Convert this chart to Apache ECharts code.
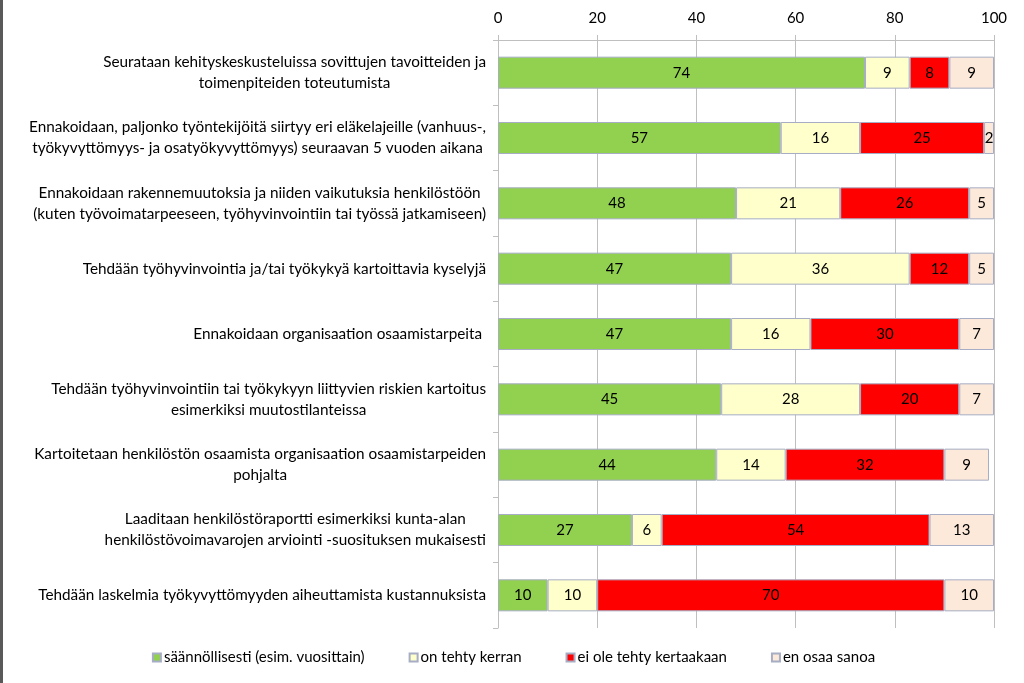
<!DOCTYPE html>
<html><head><meta charset="utf-8">
<script src="https://cdn.jsdelivr.net/npm/echarts@6/dist/echarts.min.js"></script>
<style>html,body{margin:0;padding:0;background:#fff}#c{width:1024px;height:683px;box-sizing:border-box;border-left:3px solid #595959}</style>
</head><body><div id="c"></div>
<script>
const categories = [
 "Seurataan kehityskeskusteluissa sovittujen tavoitteiden ja\ntoimenpiteiden toteutumista",
 "Ennakoidaan, paljonko työntekijöitä siirtyy eri eläkelajeille (vanhuus-,\ntyökyvyttömyys- ja osatyökyvyttömyys) seuraavan 5 vuoden aikana",
 "Ennakoidaan rakennemuutoksia ja niiden vaikutuksia henkilöstöön\n(kuten työvoimatarpeeseen, työhyvinvointiin tai työssä jatkamiseen)",
 "Tehdään työhyvinvointia ja/tai työkykyä kartoittavia kyselyjä",
 "Ennakoidaan organisaation osaamistarpeita ",
 "Tehdään työhyvinvointiin tai työkykyyn liittyvien riskien kartoitus\nesimerkiksi muutostilanteissa",
 "Kartoitetaan henkilöstön osaamista organisaation osaamistarpeiden\npohjalta",
 "Laaditaan henkilöstöraportti esimerkiksi kunta-alan\nhenkilöstövoimavarojen arviointi -suosituksen mukaisesti",
 "Tehdään laskelmia työkyvyttömyyden aiheuttamista kustannuksista"
];
const seriesNames = ["säännöllisesti (esim. vuosittain)", "on tehty kerran", "ei ole tehty kertaakaan", "en osaa sanoa"];
const regularly = [74, 57, 48, 47, 47, 45, 44, 27, 10];
const once = [9, 16, 21, 36, 16, 28, 14, 6, 10];
const never = [8, 25, 26, 12, 30, 20, 32, 54, 70];
const dontKnow = [9, 2, 5, 5, 7, 7, 9, 13, 10];
const xTicks = [0, 20, 40, 60, 80, 100];
const colors = ["#92D050", "#FFFFCC", "#FF0000", "#FDE9D9"];

const FONT = "Lato";
const chart = echarts.init(document.getElementById('c'));
const allData = [regularly, once, never, dontKnow];
chart.setOption({
  animation: false,
  textStyle: {fontFamily: FONT},
  grid: {left: 495, right: 30, top: 40, bottom: 55, containLabel: false},
  xAxis: {
    type: 'value', position: 'top', min: xTicks[0], max: xTicks[xTicks.length-1], interval: 20,
    axisLine: {show: true, lineStyle: {color: '#BFBFBF'}},
    axisTick: {show: true, length: 5, lineStyle: {color: '#BFBFBF'}},
    splitLine: {show: true, lineStyle: {color: '#BFBFBF', width: 1}},
    axisLabel: {color: '#000', fontSize: 15, fontFamily: FONT, margin: 14}
  },
  yAxis: {
    type: 'category', inverse: true, data: categories,
    axisLine: {show: true, lineStyle: {color: '#BFBFBF'}},
    axisTick: {show: true, length: 5, lineStyle: {color: '#BFBFBF'}},
    axisLabel: {
      color: '#000', fontSize: 15.3, fontFamily: FONT, margin: 12, align: 'right', lineHeight: 21,
      formatter: v => v.split('\n').map(l => '{a|' + l + '}').join('\n'),
      rich: {a: {align: 'center', fontSize: 15.3, fontFamily: FONT, color: '#000', lineHeight: 21}}
    }
  },
  legend: {
    bottom: 13, left: 'center', itemWidth: 8, itemHeight: 8, itemGap: 44,
    icon: 'rect',
    textStyle: {fontSize: 15, fontFamily: FONT, color: '#000', padding: [0,0,0,-2]},
    data: seriesNames
  },
  series: allData.map((d, i) => ({
    name: seriesNames[i], type: 'bar', stack: 'total', data: d, barWidth: 32,
    itemStyle: {color: colors[i], borderColor: '#A6ADC4', borderWidth: 1},
    label: {show: true, position: 'inside', color: '#000', fontSize: 15, fontFamily: FONT}
  }))
});
</script></body></html>
